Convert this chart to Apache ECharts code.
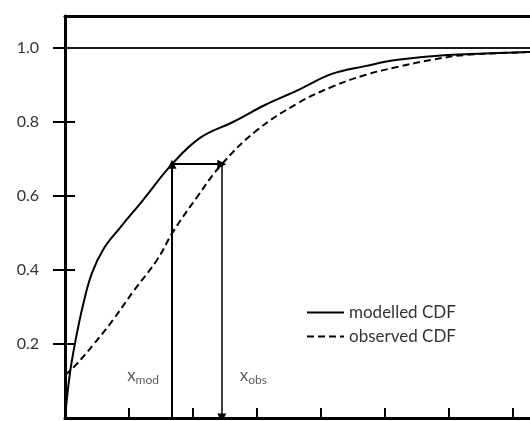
<!DOCTYPE html>
<html><head><meta charset="utf-8">
<script src="https://cdn.jsdelivr.net/npm/echarts@6/dist/echarts.min.js"></script>
<style>html,body{margin:0;padding:0;background:#fff}#c{width:530px;height:421px}</style>
</head><body><div id="c"></div>
<script>
const modelledX = [0, 0.078, 0.172, 0.281, 0.422, 0.609, 0.859, 1.219, 1.672, 2.11, 2.625, 3.125, 3.64, 4.17, 4.69, 5.2, 5.98, 7.23, 7.4];
const modelledY = [0, 0.122, 0.216, 0.305, 0.392, 0.459, 0.514, 0.589, 0.686, 0.757, 0.80, 0.846, 0.886, 0.930, 0.951, 0.968, 0.981, 0.989, 0.99];
const observedX = [0, 0.156, 0.4375, 0.75, 1.0625, 1.4375, 1.6875, 2.0625, 2.45, 3.0, 3.64, 4.17, 4.69, 5.2, 5.73, 6.25, 7.23, 7.4];
const observedY = [0.116, 0.141, 0.197, 0.265, 0.341, 0.427, 0.503, 0.597, 0.686, 0.778, 0.851, 0.895, 0.927, 0.949, 0.968, 0.981, 0.989, 0.99];
const yTicks = [0.2, 0.4, 0.6, 0.8, 1.0];
const xTicks = [1, 2, 3, 4, 5, 6, 7];
const xMod = 1.672, xObs = 2.45, cdfLevel = 0.686, labelY = 0.114;
const seriesNames = ['modelled CDF', 'observed CDF'];

const font = 'Lato, "Open Sans", sans-serif';
const txt = '#333';
const zip = (a, b) => a.map((v, i) => [v, b[i]]);
const chart = echarts.init(document.getElementById('c'), null, {renderer: 'canvas'});
const yMax = 1.0865, xMax = 7.2656;
chart.setOption({
  animation: false,
  backgroundColor: '#fff',
  grid: {left: 65, top: 16, right: 0, bottom: 3, containLabel: false},
  xAxis: [
    {type: 'value', min: 0, max: xMax, position: 'bottom',
     axisLine: {onZero: false, lineStyle: {color: '#000', width: 3}},
     axisTick: {inside: true, length: 10, lineStyle: {color: '#000', width: 2}, customValues: xTicks},
     axisLabel: {show: false}, splitLine: {show: false}},
    {type: 'value', min: 0, max: xMax, position: 'top',
     axisLine: {onZero: false, lineStyle: {color: '#000', width: 3}},
     axisTick: {show: false}, axisLabel: {show: false}, splitLine: {show: false}}
  ],
  yAxis: [
    {type: 'value', min: 0, max: yMax, position: 'left',
     axisLine: {onZero: false, lineStyle: {color: '#000', width: 3}},
     axisTick: {inside: false, length: 12, lineStyle: {color: '#000', width: 2}, customValues: yTicks},
     axisLabel: {customValues: yTicks, formatter: v => v.toFixed(1), margin: 26, fontSize: 16, color: txt, fontFamily: font},
     splitLine: {show: false}},
    {type: 'value', min: 0, max: yMax, position: 'left',
     axisLine: {show: false},
     axisTick: {inside: true, length: 10, lineStyle: {color: '#000', width: 2}, customValues: yTicks.slice(0, 4)},
     axisLabel: {show: false}, splitLine: {show: false}}
  ],
  legend: {
    orient: 'vertical', left: 301, top: 299, itemWidth: 37, itemHeight: 14, itemGap: 7,
    data: seriesNames,
    itemStyle: {opacity: 0},
    textStyle: {fontSize: 17, color: txt, fontFamily: font}
  },
  series: [
    {name: seriesNames[0], type: 'line', data: zip(modelledX, modelledY), symbol: 'none', smooth: 0.4,
     lineStyle: {color: '#000', width: 2}, itemStyle: {color: '#000'},
     markLine: {silent: true, symbol: 'none', label: {show: false},
       lineStyle: {color: '#1a1a1a', width: 2, type: 'solid'}, data: [{yAxis: 1}]}},
    {name: seriesNames[1], type: 'line', data: zip(observedX, observedY), symbol: 'none', smooth: 0.4,
     lineStyle: {color: '#000', width: 2, type: [7, 4]}, itemStyle: {color: '#000'}},
    {type: 'lines', coordinateSystem: 'cartesian2d', symbol: ['none', 'triangle'], symbolSize: [7, 9],
     lineStyle: {color: '#000', width: 2, opacity: 1}, silent: true,
     data: [
       {coords: [[xMod, 0], [xMod, cdfLevel]]},
       {coords: [[xMod, cdfLevel], [xObs, cdfLevel]]},
       {coords: [[xObs, cdfLevel], [xObs, 0]], lineStyle: {width: 1.5}}
     ]},
    {type: 'scatter', symbolSize: 0, silent: true,
     data: [
       {value: [xMod, labelY], label: {position: 'left', distance: 13, formatter: '{a|x}{b|mod}'}},
       {value: [xObs, labelY], label: {position: 'right', distance: 18, formatter: '{a|x}{b|obs}'}}
     ],
     label: {show: true, color: txt, fontFamily: font,
       rich: {a: {fontSize: 17, fontFamily: font, color: txt},
              b: {fontSize: 12, fontFamily: font, color: txt, padding: [8, 0, 0, 0]}}}}
  ]
});
</script></body></html>
